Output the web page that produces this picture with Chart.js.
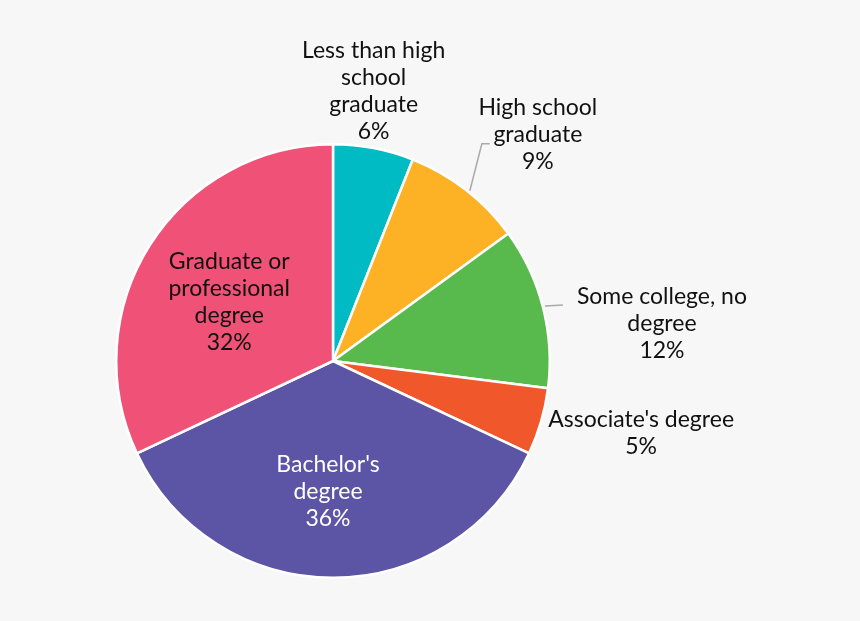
<!DOCTYPE html>
<html>
<head>
<meta charset="utf-8">
<script src="https://cdn.jsdelivr.net/npm/chart.js@4"></script>
<style>
  html, body { margin: 0; padding: 0; background: #f7f7f7; }
  canvas { display: block; }
</style>
</head>
<body>
<canvas id="pie" width="860" height="621"></canvas>
<script>
// ---------------- DATA ----------------
const categories = [
  ["Less than high", "school", "graduate"],
  ["High school", "graduate"],
  ["Some college, no", "degree"],
  ["Associate's degree"],
  ["Bachelor's", "degree"],
  ["Graduate or", "professional", "degree"]
];
const shares = [6, 9, 12, 5, 36, 32];

// ---------------- LOOK ----------------
const colors = ["#00bbc4", "#fdb124", "#58b94d", "#f0582b", "#5c54a4", "#f05177"];
const textColors = ["#111", "#111", "#111", "#111", "#ffffff", "#111"];

// where each label block sits: r = fraction of radius along the slice middle, then dx/dy shift
const labelPlace = [
  { r: 1.0, dx: 0, dy: -57 },
  { r: 1.0, dx: 72, dy: -55 },
  { r: 1.0, dx: 119, dy: 16 },
  { r: 1.0, dx: 100, dy: 12 },
  { r: 0.6, dx: -5, dy: 1 },
  { r: 0.6, dx: 6, dy: 11 }
];
// leader lines, offsets from slice's outer middle point
const leaders = [
  null,
  [[4, 1], [16, -46], [24, -46]],
  [[2, -1], [20, -2]],
  null, null, null
];

const FONT = "23px Lato, 'Noto Sans', sans-serif";
const LINE_H = 27;

const pieLabels = {
  id: "pieLabels",
  afterDatasetsDraw(chart) {
    const c = chart.ctx;
    const arcs = chart.getDatasetMeta(0).data;
    c.save();
    c.font = FONT;
    c.textAlign = "center";
    c.textBaseline = "middle";
    arcs.forEach((arc, i) => {
      const { x, y, startAngle, endAngle, outerRadius } = arc.getProps(
        ["x", "y", "startAngle", "endAngle", "outerRadius"], true);
      const mid = (startAngle + endAngle) / 2;
      const ex = x + Math.cos(mid) * outerRadius;
      const ey = y + Math.sin(mid) * outerRadius;

      if (leaders[i]) {
        c.strokeStyle = "#aaaaaa";
        c.lineWidth = 1.5;
        c.beginPath();
        leaders[i].forEach((p, k) => {
          if (k === 0) c.moveTo(ex + p[0], ey + p[1]);
          else c.lineTo(ex + p[0], ey + p[1]);
        });
        c.stroke();
      }

      const p = labelPlace[i];
      const bx = x + Math.cos(mid) * outerRadius * p.r + p.dx;
      const by = y + Math.sin(mid) * outerRadius * p.r + p.dy;
      const lines = categories[i].concat([shares[i] + "%"]);
      const top = by - (lines.length - 1) * LINE_H / 2;
      c.fillStyle = textColors[i];
      lines.forEach((t, k) => c.fillText(t, bx, top + k * LINE_H));
    });
    c.restore();
  }
};

// ---------------- CHART ----------------
const ctx = document.getElementById("pie").getContext("2d");

const chart = new Chart(ctx, {
  type: "pie",
  data: {
    labels: categories,
    datasets: [{
      data: shares,
      backgroundColor: colors,
      borderColor: "#ffffff",
      borderWidth: 2.5
    }]
  },
  options: {
    responsive: false,
    animation: false,
    layout: { padding: { top: 143, bottom: 42, left: 115, right: 309 } },
    plugins: {
      legend: { display: false },
      tooltip: { enabled: false }
    }
  },
  plugins: [pieLabels]
});
</script>
</body>
</html>
